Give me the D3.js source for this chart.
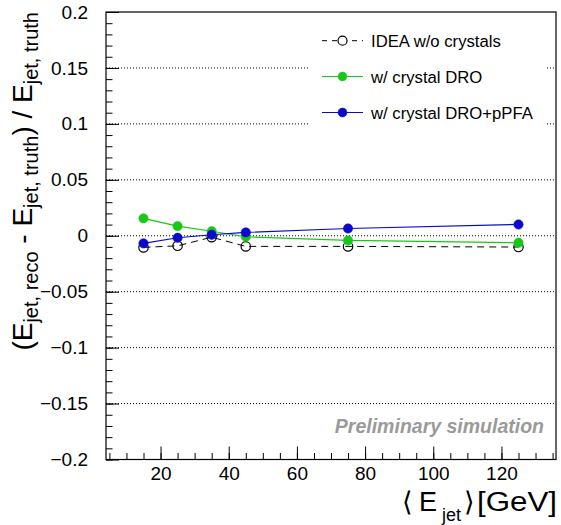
<!DOCTYPE html>
<html><head><meta charset="utf-8">
<script src="https://cdn.jsdelivr.net/npm/d3@7"></script>
<style>
body{margin:0;background:#fff;}
text{font-family:"Liberation Sans",Arial,Helvetica,sans-serif;}
</style></head>
<body><svg id="c" width="561" height="525"></svg>
<script>
const energies = [15, 25, 35, 45, 75, 125];
const ideaNoCrystals = [-0.0104, -0.0090, -0.0013, -0.0095, -0.0095, -0.0101];
const crystalDRO = [0.0155, 0.0086, 0.0040, -0.0009, -0.0042, -0.0063];
const crystalDROpPFA = [-0.0068, -0.0018, 0.0009, 0.0030, 0.0065, 0.0101];
const seriesNames = ["IDEA w/o crystals", "w/ crystal DRO", "w/ crystal DRO+pPFA"];
const xTickValues = [20, 40, 60, 80, 100, 120];
const yTickValues = [0.2, 0.15, 0.1, 0.05, 0, -0.05, -0.1, -0.15, -0.2];

const L = 106, R = 556, T = 12, B = 459.5;
const svg = d3.select("#c");
const x = d3.scaleLinear().domain([4, 136]).range([L, R]);
const y = d3.scaleLinear().domain([-0.2, 0.2]).range([B, T]);

// grid (dotted, horizontal)
svg.append("g").selectAll("line").data(yTickValues.filter(v => v > -0.2 && v < 0.2)).join("line")
  .attr("x1", L).attr("x2", R).attr("y1", d => y(d)).attr("y2", d => y(d))
  .attr("stroke", "#000").attr("stroke-width", 1).attr("stroke-dasharray", "1,2");

// axes
const fmt = d => d === 0 ? "0" : d3.format("")(d).replace("-", "\u2212");
const yAxis = d3.axisLeft(y).tickValues(yTickValues).tickFormat(fmt).tickSize(13).tickPadding(5);
const yMinor = d3.axisLeft(y).ticks(40).tickFormat("").tickSize(6.5);
const xAxis = d3.axisBottom(x).tickValues(xTickValues).tickFormat(d3.format("d")).tickSizeInner(-13).tickSizeOuter(0).tickPadding(7);
const xMinor = d3.axisBottom(x).tickValues(d3.range(5, 136, 5)).tickFormat("").tickSizeInner(-6.5).tickSizeOuter(0);

function style(g, fs) {
  g.select(".domain").remove();
  g.selectAll("line").attr("stroke", "#000").attr("stroke-width", 1);
  g.selectAll("text").attr("font-size", fs).attr("fill", "#000").attr("font-family", "'Liberation Sans',Arial,sans-serif");
}
svg.append("g").attr("transform", `translate(${L},0)`).call(yMinor).call(g => style(g, 0)).selectAll("line").attr("x2", 6.5);
svg.append("g").attr("transform", `translate(${L},0)`).call(yAxis).call(g => style(g, 19)).selectAll("line").attr("x2", 13);
svg.append("g").attr("transform", `translate(0,${B})`).call(xMinor).call(g => style(g, 0));
svg.append("g").attr("transform", `translate(0,${B})`).call(xAxis).call(g => style(g, 19)).selectAll("text").attr("dy", "0.71em");

// frame
svg.append("rect").attr("x", L).attr("y", T).attr("width", R - L).attr("height", B - T)
  .attr("fill", "none").attr("stroke", "#000").attr("stroke-width", 1.2);

// series
const colors = ["#000000", "#18c818", "#0a0acc"];
const allSeries = [ideaNoCrystals, crystalDRO, crystalDROpPFA];
const line = d3.line().x(d => x(d[0])).y(d => y(d[1]));
[0, 1, 2].forEach(i => {
  const pts = energies.map((e, k) => [e, allSeries[i][k]]);
  const g = svg.append("g");
  g.append("path").datum(pts).attr("d", line).attr("fill", "none")
    .attr("stroke", colors[i]).attr("stroke-width", i === 0 ? 1 : 1.2)
    .attr("stroke-dasharray", i === 0 ? "7,5" : null);
  g.selectAll("circle").data(pts).join("circle")
    .attr("cx", d => x(d[0])).attr("cy", d => y(d[1])).attr("r", 4.7)
    .attr("fill", i === 0 ? "none" : colors[i])
    .attr("stroke", colors[i]).attr("stroke-width", i === 0 ? 1.2 : 0.5);
});

// legend
const lg = svg.append("g");
lg.append("rect").attr("x", 310).attr("y", 22).attr("width", 236).attr("height", 108).attr("fill", "#fff");
const rowY = [40.7, 76.5, 112.5];
seriesNames.forEach((n, i) => {
  lg.append("line").attr("x1", 322).attr("x2", 363).attr("y1", rowY[i]).attr("y2", rowY[i])
    .attr("stroke", colors[i]).attr("stroke-width", i === 0 ? 1 : 1.2)
    .attr("stroke-dasharray", i === 0 ? "5,5" : null);
  lg.append("circle").attr("cx", 342.5).attr("cy", rowY[i]).attr("r", 4.5)
    .attr("fill", i === 0 ? "#fff" : colors[i]).attr("stroke", colors[i]).attr("stroke-width", i === 0 ? 1.2 : 0.5);
  lg.append("text").attr("x", 371).attr("y", rowY[i] + 6).attr("font-size", 16.7).text(n);
});

// preliminary
svg.append("text").attr("x", 544).attr("y", 433).attr("text-anchor", "end")
  .attr("font-size", 19.5).attr("font-weight", "bold").attr("font-style", "italic")
  .attr("fill", "#9a9a9a").text("Preliminary simulation");

// y title
const yt = svg.append("text").attr("transform", "translate(32,12) rotate(-90)").attr("text-anchor", "end").attr("font-size", 28);
const yParts = [["(E", 0], ["jet, reco", 1], [" - E", 0], ["jet, truth", 1], [") / E", 0], ["jet, truth", 1]];
let prevSub = 0;
yParts.forEach(([t, s]) => {
  const ts = yt.append("tspan").text(t).attr("font-size", s ? 20 : 28);
  const dy = (s ? 6 : 0) - (prevSub ? 6 : 0);
  if (dy) ts.attr("dy", dy);
  prevSub = s;
});

// x title (pieces placed along the baseline)
const xtG = svg.append("g").attr("font-size", 27);
xtG.append("text").attr("x", 402).attr("y", 511).attr("font-size", 27)
  .attr("font-family", "'DejaVu Sans',sans-serif").text("\u27E8");
xtG.append("text").attr("x", 419).attr("y", 511).attr("font-size", 27).text("E");
xtG.append("text").attr("x", 442).attr("y", 521).attr("font-size", 18).text("jet");
xtG.append("text").attr("x", 464).attr("y", 511).attr("font-size", 27)
  .attr("font-family", "'DejaVu Sans',sans-serif").text("\u27E9");
xtG.append("text").attr("x", 477).attr("y", 511).attr("font-size", 27)
  .attr("textLength", 80).attr("lengthAdjust", "spacingAndGlyphs").text("[GeV]");
</script></body></html>
